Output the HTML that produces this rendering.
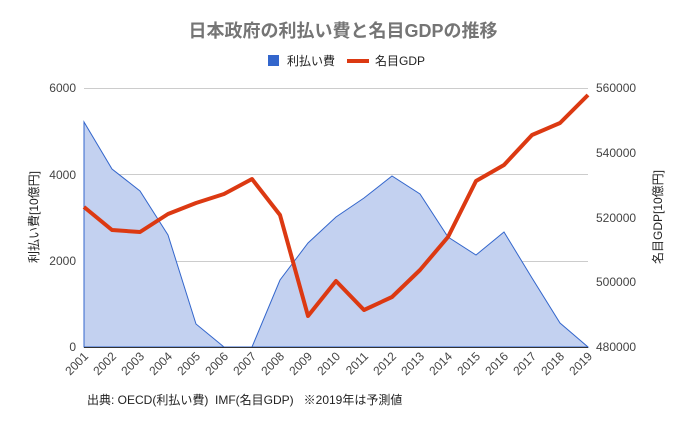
<!DOCTYPE html>
<html><head><meta charset="utf-8"><style>
html,body{margin:0;padding:0;background:#fff;}
svg{display:block;font-family:"Liberation Sans","Noto Sans CJK JP",sans-serif;}
</style></head><body>
<svg width="687" height="428" viewBox="0 0 687 428">
<text x="343" y="37" text-anchor="middle" font-size="18" font-weight="bold" fill="#757575">日本政府の利払い費と名目GDPの推移</text>
<rect x="268" y="55" width="11" height="11" fill="#3366cc"/>
<text x="287" y="65" font-size="12" fill="#222">利払い費</text>
<rect x="347" y="59" width="22" height="4" fill="#dc3912"/>
<text x="375" y="65" font-size="12" fill="#222">名目GDP</text>
<g stroke="#cccccc" stroke-width="1">
<line x1="84" y1="88.5" x2="588" y2="88.5"/>
<line x1="84" y1="174.5" x2="588" y2="174.5"/>
<line x1="84" y1="261.5" x2="588" y2="261.5"/>
</g>
<polygon fill="#c3d1f0" stroke="#3366cc" stroke-width="1" points="84,347 84,122 112,169 140,191 168,235 196,324 224,347 252,347 280,280 308,243 336,217 364,198 392,176 420,194 448,237 476,255 504,232 532,278 560,323 588,347"/>
<line x1="84" y1="347.5" x2="588" y2="347.5" stroke="#333" stroke-width="1"/>
<polyline fill="none" stroke="#dc3912" stroke-width="4" stroke-linejoin="round" points="84,207 112,230 140,232 168,214 196,203 224,194 252,179 280,215 308,316 336,281 364,310 392,297 420,270 448,237 476,181 504,165 532,135 560,123 588,95"/>
<g font-size="12" fill="#444" text-anchor="end">
<text x="76" y="92">6000</text>
<text x="76" y="179">4000</text>
<text x="76" y="265">2000</text>
<text x="76" y="351">0</text>
</g>
<g font-size="12" fill="#444" text-anchor="start">
<text x="596" y="92">560000</text>
<text x="596" y="157">540000</text>
<text x="596" y="222">520000</text>
<text x="596" y="286">500000</text>
<text x="596" y="351">480000</text>
</g>
<text transform="translate(38,217) rotate(-90)" text-anchor="middle" font-size="12" fill="#222">利払い費[10億円]</text>
<text transform="translate(662,217) rotate(-90)" text-anchor="middle" font-size="12" fill="#222">名目GDP[10億円]</text>
<g font-size="12" fill="#444" text-anchor="end">
<text transform="translate(89,357) rotate(-45)">2001</text>
<text transform="translate(117,357) rotate(-45)">2002</text>
<text transform="translate(145,357) rotate(-45)">2003</text>
<text transform="translate(173,357) rotate(-45)">2004</text>
<text transform="translate(201,357) rotate(-45)">2005</text>
<text transform="translate(229,357) rotate(-45)">2006</text>
<text transform="translate(257,357) rotate(-45)">2007</text>
<text transform="translate(285,357) rotate(-45)">2008</text>
<text transform="translate(313,357) rotate(-45)">2009</text>
<text transform="translate(341,357) rotate(-45)">2010</text>
<text transform="translate(369,357) rotate(-45)">2011</text>
<text transform="translate(397,357) rotate(-45)">2012</text>
<text transform="translate(425,357) rotate(-45)">2013</text>
<text transform="translate(453,357) rotate(-45)">2014</text>
<text transform="translate(481,357) rotate(-45)">2015</text>
<text transform="translate(509,357) rotate(-45)">2016</text>
<text transform="translate(537,357) rotate(-45)">2017</text>
<text transform="translate(565,357) rotate(-45)">2018</text>
<text transform="translate(593,357) rotate(-45)">2019</text>
</g>
<text x="87" y="404" font-size="12" fill="#222" style="white-space:pre">出典: OECD(利払い費)  IMF(名目GDP)   ※2019年は予測値</text>
</svg>
</body></html>
